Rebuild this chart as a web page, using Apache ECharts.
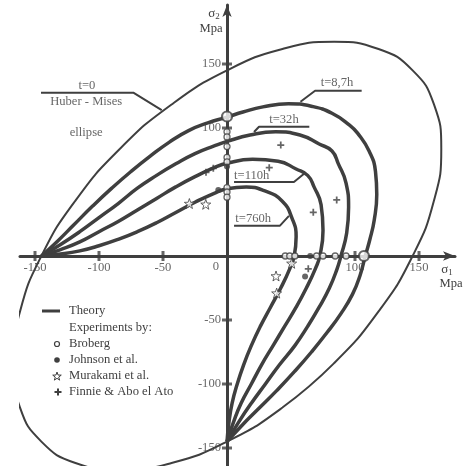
<!DOCTYPE html>
<html><head><meta charset="utf-8">
<script src="https://cdn.jsdelivr.net/npm/echarts@6/dist/echarts.min.js"></script>
<style>html,body{margin:0;padding:0;background:#fff}#c{width:463px;height:466px}</style>
</head><body><div id="c"></div>
<script>
// Huber–Mises ellipse (t = 0), [sigma1, sigma2] in MPa
const ellipse = [[83.7,-83.7],[43.3,-118.4],[0,-145],[-43.3,-161.7],[-83.7,-167.4],[-118.4,-161.7],[-145,-145],
  [-161.7,-118.4],[-167.4,-83.7],[-161.7,-43.3],[-145,0],[-118.4,43.3],[-83.7,83.7],[-43.3,118.4],[0,145],
  [43.3,161.7],[83.7,167.4],[118.4,161.7],[145,145],[161.7,118.4],[167.4,83.7],[161.7,43.3],[145,0],
  [118.4,-43.3],[83.7,-83.7],[43.3,-118.4]];

// Theoretical rupture curves for the listed times
const curve8h7 = [[-145,0],[-132,12],[-120,24],[-105,39],[-90,53],[-75,66],[-60,78],[-45,89],[-30,98],[-15,104],
  [0,108.5],[12.5,112.5],[28,116.5],[48,119],[66,117],[82,111.5],[96,102],[102,96],[111,82],[116,66],[117,48],
  [115,28],[111.5,12.5],[108,0],[104,-15],[98,-30],[89,-45],[78,-60],[66,-75],[53,-90],[39,-105],[24,-120],[12,-132],[0,-145]];
const curve32h = [[-145,0],[-130,9],[-115,19],[-100,30],[-85,41],[-70,53],[-55,63],[-40,72],[-25,80],[-10,86],
  [0,89.5],[18,94.5],[38,97],[57,94.5],[72,87.5],[82,82],[87,72],[93,57],[95,38],[93.5,18],[89,0],
  [86,-10],[80,-25],[72,-40],[63,-55],[53,-70],[41,-85],[30,-100],[19,-115],[9,-130],[0,-145]];
const curve110h = [[-145,0],[-130,5],[-115,11],[-100,19],[-85,27],[-70,36],[-55,45],[-40,54],[-25,62],[-10,69],
  [0,72.5],[20,75.5],[40,74],[54,68],[63,63],[68,54],[73.5,40],[75,20],[72.5,0],
  [69,-10],[62,-25],[54,-40],[45,-55],[36,-70],[27,-85],[19,-100],[11,-115],[5,-130],[0,-145]];
const curve760h = [[-145,0],[-130,1.5],[-115,4],[-100,8],[-85,13],[-70,19],[-55,26],[-40,34],[-25,42],[-10,49],
  [0,52.5],[15,54],[29,51],[43,43],[51,29],[54,15],[52.5,0],
  [49,-10],[42,-25],[34,-40],[26,-55],[19,-70],[13,-85],[8,-100],[4,-115],[1.5,-130],[0,-145]];

// Experimental points
const broberg = [[0,97],[0,93],[0,85.5],[0,77],[0,73.5],[0,53.5],[0,50],[0,46],
  [45.5,0],[49,0],[53,0],[70,0],[75,0],[84.5,0],[93,0]];
const brobergBig = [[0,109],[107,0]];
const johnson = [[0,70],[-6.8,51.6],[65,0],[61,-16]];
const murakami = [[-29.4,41],[-16.6,40.4],[50.5,-5.7],[38.3,-15.6],[38.8,-29]];
const finnie = [[42,86.7],[33,69],[85.7,43.8],[67.4,34.1],[-16.4,65.4],[-10.7,68.5],[63.5,-10]];

// Axis ticks
const xTicks = [-150,-100,-50,100,150];
const yTicks = [150,100,-50,-100,-150];

const INK = '#3f3f3f';
const FONT = 'Liberation Serif';
const FS = 12.6;
const STAR = 'path://M0,-10L2.35,-3.24L9.51,-3.09L3.8,1.24L5.88,8.09L0,4L-5.88,8.09L-3.8,1.24L-9.51,-3.09L-2.35,-3.24Z';
const PLUS = 'path://M-1,-4H1V-1H4V1H1V4H-1V1H-4V-1H-1Z';
const STAR_PTS = [[0,-4.5],[1.06,-1.46],[4.28,-1.39],[1.71,0.56],[2.65,3.64],[0,1.8],[-2.65,3.64],[-1.71,0.56],[-4.28,-1.39],[-1.06,-1.46]];
const PLUS_PTS = [[-1,-3.5],[1,-3.5],[1,-1],[3.5,-1],[3.5,1],[1,1],[1,3.5],[-1,3.5],[-1,1],[-3.5,1],[-3.5,-1],[-1,-1]];

const chart = echarts.init(document.getElementById('c'), null, {renderer: 'canvas'});

function curveSeries(name, data, width) {
  return {type: 'line', name, data, smooth: true, symbol: 'none', silent: true, clip: false,
    lineStyle: {color: INK, width}, z: 3, animation: false};
}
function leader(points) {
  return {type: 'line', data: points, symbol: 'none', silent: true, clip: false,
    lineStyle: {color: INK, width: 2}, z: 3, animation: false};
}
const txt = {color: '#404040', fontFamily: FONT, fontSize: FS};

// text annotations anchored in data space
const notes = [
  {value: [-109.4, 132.8], name: 't=0'},
  {value: [-110, 120.3], name: 'Huber - Mises'},
  {value: [-110, 96], name: 'ellipse'},
  {value: [85.9, 135.6], name: 't=8,7h'},
  {value: [44.5, 106.8], name: 't=32h'},
  {value: [19.3, 62.5], name: 't=110h'},
  {value: [20.5, 28.9], name: 't=760h'}
];

function legendText(y, s) {
  return {type: 'text', x: 69, y, style: {text: s, fill: '#404040', font: FS + 'px ' + FONT, verticalAlign: 'middle'}};
}

const option = {
  animation: false,
  grid: {left: 20, right: 8, top: 5, bottom: 0, containLabel: false},
  xAxis: {
    type: 'value', min: -161.72, max: 178.12,
    axisLine: {onZero: true, symbol: ['none', 'arrow'], symbolSize: [7, 12], lineStyle: {color: INK, width: 3}},
    axisTick: {show: false}, axisLabel: {show: false}, splitLine: {show: false}
  },
  yAxis: {
    type: 'value', min: -164.06, max: 196.1,
    axisLine: {onZero: true, symbol: ['none', 'arrow'], symbolSize: [7, 12], lineStyle: {color: INK, width: 3}},
    axisTick: {show: false}, axisLabel: {show: false}, splitLine: {show: false}
  },
  series: [
    curveSeries('t=0', ellipse, 2),
    curveSeries('t=8,7h', curve8h7, 3.5),
    curveSeries('t=32h', curve32h, 3.5),
    curveSeries('t=110h', curve110h, 3.5),
    curveSeries('t=760h', curve760h, 3.5),
    // callout leaders
    leader([[-145.3,127.6],[-73.2,127.6],[-51,114]]),
    leader([[105.2,129.1],[68.8,129.1],[57.4,120.5]]),
    leader([[64.3,101],[25,101],[21.1,96.9]]),
    leader([[5.5,57.8],[52.3,57.8],[60.9,64.8]]),
    leader([[5.5,23.7],[41.4,23.7],[48.4,31.3]]),
    {type: 'scatter', data: notes, symbolSize: 0, silent: true, z: 4, clip: false,
      label: {show: true, position: 'inside', formatter: p => p.name, ...txt}},
    // tick marks and tick labels
    {type: 'scatter', data: xTicks.map(v => [v, 0]), symbol: 'rect', symbolSize: [3, 10], silent: true, z: 2,
      itemStyle: {color: INK},
      label: {show: true, position: 'bottom', distance: 0, formatter: p => String(p.value[0]), ...txt}},
    {type: 'scatter', data: [[0, 0]], symbolSize: 0, silent: true, z: 2,
      label: {show: true, position: 'inside', offset: [-11, 11], formatter: '0', ...txt}},
    {type: 'scatter', data: yTicks.map(v => [0, v]), symbol: 'rect', symbolSize: [10, 3], silent: true, z: 2,
      itemStyle: {color: INK},
      label: {show: true, position: 'left', distance: 1, formatter: p => String(p.value[1]), ...txt}},
    // experiments
    {type: 'scatter', name: 'Broberg', data: broberg, symbol: 'circle', symbolSize: 6, z: 5,
      itemStyle: {color: '#fff', borderColor: INK, borderWidth: 1.3}},
    {type: 'scatter', name: 'Broberg', data: brobergBig, symbol: 'circle', symbolSize: 10, z: 5,
      itemStyle: {color: '#fff', borderColor: INK, borderWidth: 2.2}},
    {type: 'scatter', name: 'Johnson et al.', data: johnson, symbol: 'circle', symbolSize: 6, z: 5,
      itemStyle: {color: INK}},
    {type: 'scatter', name: 'Murakami et al.', data: murakami, symbol: STAR, symbolSize: 10, z: 5,
      itemStyle: {color: '#fff', borderColor: INK, borderWidth: 1}},
    {type: 'scatter', name: 'Finnie & Abo el Ato', data: finnie, symbol: PLUS, symbolSize: 7, z: 5,
      itemStyle: {color: INK}}
  ],
  graphic: [
    // axis names
    {type: 'text', x: 447, y: 270, style: {text: 'σ{s|1}', rich: {s: {fontSize: 9, fontFamily: FONT, fill: '#404040', padding: [6, 0, 0, 0]}}, fill: '#404040', font: '13px ' + FONT, align: 'center', verticalAlign: 'middle'}},
    {type: 'text', x: 451, y: 284, style: {text: 'Mpa', fill: '#404040', font: FS + 'px ' + FONT, align: 'center', verticalAlign: 'middle'}},
    {type: 'text', x: 214, y: 14, style: {text: 'σ{s|2}', rich: {s: {fontSize: 9, fontFamily: FONT, fill: '#404040', padding: [6, 0, 0, 0]}}, fill: '#404040', font: '13px ' + FONT, align: 'center', verticalAlign: 'middle'}},
    {type: 'text', x: 211, y: 29, style: {text: 'Mpa', fill: '#404040', font: FS + 'px ' + FONT, align: 'center', verticalAlign: 'middle'}},
    // legend
    {type: 'line', shape: {x1: 42, y1: 311, x2: 60, y2: 311}, style: {stroke: INK, lineWidth: 3}},
    legendText(311, 'Theory'),
    legendText(328, 'Experiments by:'),
    {type: 'circle', shape: {cx: 57, cy: 344, r: 2.5}, style: {fill: '#fff', stroke: INK, lineWidth: 1.2}},
    legendText(344, 'Broberg'),
    {type: 'circle', shape: {cx: 57, cy: 360, r: 2.8}, style: {fill: INK}},
    legendText(360, 'Johnson et al.'),
    {type: 'polygon', x: 57, y: 376.5, shape: {points: STAR_PTS}, style: {fill: '#fff', stroke: INK, lineWidth: 1}},
    legendText(376, 'Murakami et al.'),
    {type: 'polygon', x: 58, y: 392, shape: {points: PLUS_PTS}, style: {fill: INK}},
    legendText(392, 'Finnie & Abo el Ato')
  ]
};
chart.setOption(option);
</script></body></html>
